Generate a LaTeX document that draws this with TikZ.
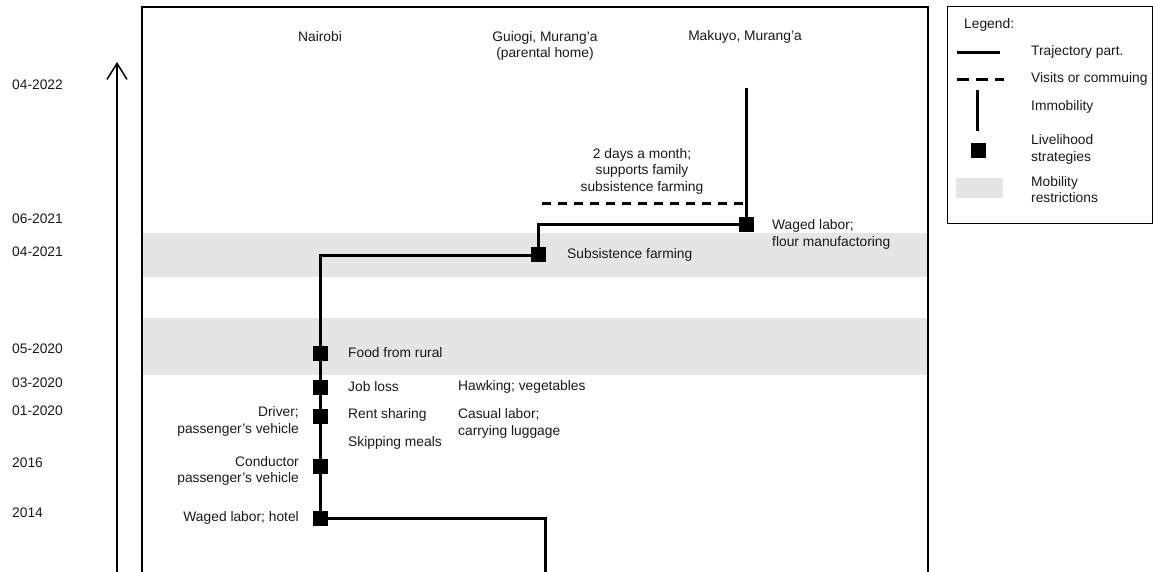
\documentclass[tikz,border=0pt]{standalone}
\usepackage{fontspec}
\setmainfont{Liberation Sans}
\usetikzlibrary{arrows.meta}
\begin{document}
\begin{tikzpicture}[x=1pt,y=-1pt,
  lbl/.style={inner sep=0pt, font=\fontsize{13.8}{16.5}\selectfont, text=black!90},
  traj/.style={line width=3pt},
  visit/.style={line width=3pt, dash pattern=on 9pt off 7pt},
  sq/.style={fill=black, draw=none, minimum size=15pt, inner sep=0pt},
  band/.style={fill=black!10, draw=none},
  frame/.style={line width=2pt},
  axisline/.style={line width=1.5pt, -{Straight Barb[length=16pt,width=20pt]}},
  legendbox/.style={line width=1pt}
]
\useasboundingbox (0,0) rectangle (1153,571);
\clip (0,0) rectangle (1153,571);

% mobility restriction periods
\fill[band] (142,233) rectangle (928,277);
\fill[band] (142,318) rectangle (928,375);

% outer frame (open at the bottom)
\draw[frame] (142,600) -- (142,7) -- (928,7) -- (928,600);

% time axis
\coordinate (axbot) at (117,600);
\coordinate (axtop) at (117,62);
\draw[axisline] (axbot) -- (axtop);

% dates
\foreach \d/\y in {04-2022/85, 06-2021/219, 04-2021/252, 05-2020/349,
                   03-2020/383, 01-2020/411, 2016/463, 2014/513}
  \node[lbl, anchor=west] (date\d) at (12,\y) {\d};

% places
\node[lbl] (nairobi) at (320,37) {Nairobi};
\node[lbl, align=center] (guiogi) at (545,46) {Guiogi, Murang'a\\(parental home)};
\node[lbl] (makuyo) at (745,37) {Makuyo, Murang'a};

% livelihood strategy markers
\node[sq] (hotel) at (320,518) {};
\node[sq] (conductor) at (320,466) {};
\node[sq] (driver) at (320,416) {};
\node[sq] (jobloss) at (320,387) {};
\node[sq] (food) at (320,353) {};
\node[sq] (farming) at (538,254) {};
\node[sq] (flour) at (746,224) {};

% trajectory
\coordinate (start) at (545,600);
\coordinate (ncorner) at (320,255);
\coordinate (gcorner) at (538,224);
\coordinate (mtop) at (746,88);
\draw[traj] (start) |- (hotel.center) -- (ncorner) -| (farming.center)
  -- (gcorner) -- (flour.center) -- (mtop);

% visits back to the parental home
\coordinate (visitend) at (542,203);
\draw[visit] (visitend) -- (visitend -| flour);

% strategy labels
\node[lbl, anchor=west] (lfood) at (348,353) {Food from rural};
\node[lbl, anchor=west] (ljob) at (348,387) {Job loss};
\node[lbl, anchor=west] (lrent) at (348,415) {Rent sharing};
\node[lbl, anchor=west] (lskip) at (348,443) {Skipping meals};
\node[lbl, anchor=west] (lhawk) at (458,387) {Hawking; vegetables};
\node[lbl, anchor=west, align=left] (lcasual) at (458,423.5) {Casual labor;\\carrying luggage};
\node[lbl, anchor=east, align=right] (ldriver) at (299,421.5) {Driver;\\passenger’s vehicle};
\node[lbl, anchor=east, align=right] (lconductor) at (299,471) {Conductor\\passenger’s vehicle};
\node[lbl, anchor=east] (lhotel) at (299,518) {Waged labor; hotel};
\node[lbl, anchor=west] (lfarming) at (567,255) {Subsistence farming};
\node[lbl, anchor=west, align=left] (lflour) at (772,234.5) {Waged labor;\\flour manufactoring};
\node[lbl, align=center] (lvisit) at (642,171) {2 days a month;\\supports family\\subsistence farming};

% legend
\draw[legendbox] (947,6) rectangle (1152,223);
\node[lbl, anchor=west] (legtitle) at (964,25) {Legend:};
\coordinate (l1a) at (957,52);  \coordinate (l1b) at (1000,52);
\draw[traj] (l1a) -- (l1b);
\node[lbl, anchor=west] (legtraj) at (1031,52) {Trajectory part.};
\coordinate (l2a) at (957,79);  \coordinate (l2b) at (1004,79);
\draw[traj, dash pattern=on 12pt off 7pt] (l2a) -- (l2b);
\node[lbl, anchor=west] (legvisit) at (1031,79) {Visits or commuing};
\coordinate (l3a) at (977,90);  \coordinate (l3b) at (977,131);
\draw[traj] (l3a) -- (l3b);
\node[lbl, anchor=west] (legimmob) at (1031,107) {Immobility};
\node[sq] (legsq) at (978,150.5) {};
\node[lbl, anchor=west, align=left] (legliv) at (1031,149.5) {Livelihood\\strategies};
\fill[band] (956,178) rectangle (1003,198);
\node[lbl, anchor=west, align=left] (legmob) at (1031,189.5) {Mobility\\restrictions};
\end{tikzpicture}
\end{document}
